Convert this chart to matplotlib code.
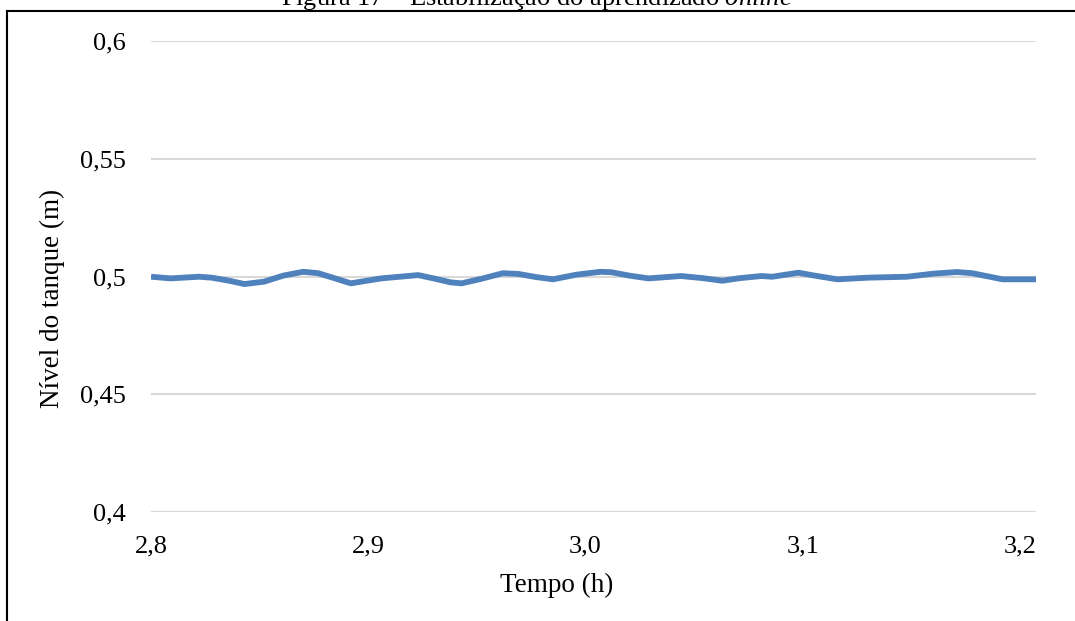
import matplotlib
matplotlib.use("Agg")
import matplotlib.pyplot as plt
from matplotlib.lines import Line2D

plt.rcParams['font.family'] = ['Liberation Serif', 'DejaVu Serif']
plt.rcParams['mathtext.fontset'] = 'custom'
plt.rcParams['mathtext.it'] = 'Liberation Serif:italic'
plt.rcParams['mathtext.rm'] = 'Liberation Serif'

# values
tempo = [2.800, 2.809, 2.822, 2.828, 2.836, 2.843, 2.852, 2.861, 2.870, 2.877,
         2.884, 2.892, 2.906, 2.923, 2.931, 2.938, 2.943, 2.952, 2.962, 2.969,
         2.977, 2.985, 2.996, 3.007, 3.012, 3.020, 3.029, 3.044, 3.054, 3.063,
         3.071, 3.081, 3.086, 3.098, 3.106, 3.116, 3.130, 3.148, 3.160, 3.171,
         3.178, 3.185, 3.192, 3.208]
nivel = [0.4999, 0.4992, 0.4999, 0.4995, 0.4982, 0.4968, 0.4978, 0.5004, 0.5020, 0.5014,
         0.4994, 0.4971, 0.4992, 0.5006, 0.4990, 0.4975, 0.4971, 0.4990, 0.5014, 0.5011,
         0.4998, 0.4988, 0.5008, 0.5020, 0.5018, 0.5004, 0.4992, 0.5002, 0.4993, 0.4982,
         0.4993, 0.5002, 0.4999, 0.5016, 0.5003, 0.4988, 0.4995, 0.4999, 0.5012, 0.5019,
         0.5014, 0.5001, 0.4988, 0.4988]

x_ticks = [2.8, 2.9, 3.0, 3.1, 3.2]
x_labels = ['2,8', '2,9', '3,0', '3,1', '3,2']
y_ticks = [0.4, 0.45, 0.5, 0.55, 0.6]
y_labels = ['0,4', '0,45', '0,5', '0,55', '0,6']

fig = plt.figure(figsize=(10.75, 6.21), dpi=100)
ax = fig.add_axes([151 / 1075, 1 - 512 / 621, 885 / 1075, 471 / 621])

ax.plot(tempo, nivel, color='#4F81BD', linewidth=4.2, solid_joinstyle='round',
        solid_capstyle='butt', zorder=3)

ax.set_xlim(2.8, 3.2074)
ax.set_ylim(0.4, 0.6)
ax.set_xticks(x_ticks)
ax.set_xticklabels(x_labels, fontsize=19)
ax.set_yticks(y_ticks)
ax.set_yticklabels(y_labels, fontsize=19)
ax.tick_params(axis='both', length=0)
ax.tick_params(axis='x', pad=17)
ax.tick_params(axis='y', pad=18)
ax.grid(axis='y', color='#D9D9D9', linewidth=1.5)
ax.set_axisbelow(True)
for s in ax.spines.values():
    s.set_visible(False)

ax.set_xlabel('Tempo (h)', fontsize=19.5)
ax.xaxis.set_label_coords((557 - 151) / 885, (512 - 585) / 471)
ax.xaxis.label.set_va('center')
ax.set_ylabel('Nível do tanque (m)', fontsize=19.5)
ax.yaxis.set_label_coords((52 - 151) / 885, (512 - 298) / 471)
ax.yaxis.label.set_va('center')

# frame around the figure and the clipped caption
fig.add_artist(Line2D([7 / 1075, 7 / 1075], [0, 1 - 11 / 621], color='black', linewidth=1.5))
fig.add_artist(Line2D([7 / 1075, 1], [1 - 11 / 621, 1 - 11 / 621], color='black', linewidth=1.5))
fig.text(537 / 1075, 1 - 5 / 621, 'Figura 17 – Estabilização do aprendizado $\\it{online}$',
         ha='center', va='baseline', fontsize=19)

fig.savefig('out.png', dpi=100)
